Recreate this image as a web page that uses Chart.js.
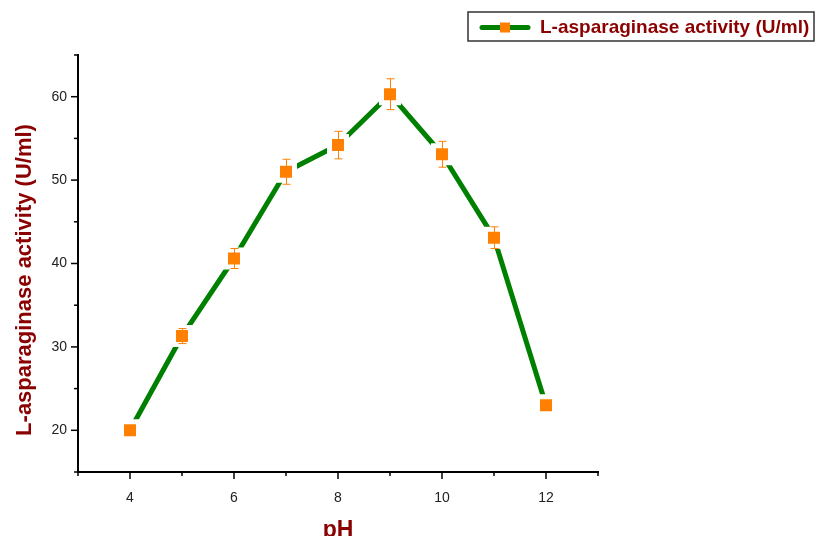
<!DOCTYPE html>
<html>
<head>
<meta charset="utf-8">
<title>L-asparaginase activity vs pH</title>
<script src="https://cdn.jsdelivr.net/npm/chart.js@4.4.1/dist/chart.umd.min.js"></script>
<style>
    html, body { margin: 0; padding: 0; background: #fff; }
    #wrap { width: 817px; height: 536px; }
</style>
</head>
<body>
<div id="wrap"><canvas id="ph-chart" width="817" height="536"></canvas></div>
<script>
// values
const phValues = [4, 5, 6, 7, 8, 9, 10, 11, 12];
const activity = [20.0, 31.3, 40.6, 51.0, 54.2, 60.3, 53.1, 43.1, 23.0];
const activityErr = [0.3, 0.9, 1.2, 1.5, 1.65, 1.85, 1.55, 1.3, 0.3];
const xTickLabels = ["4", "6", "8", "10", "12"];
const yTickLabels = ["20", "30", "40", "50", "60"];

const seriesName = "L-asparaginase activity (U/ml)";
const yTitle = "L-asparaginase activity (U/ml)";
const xTitle = "pH";

const GREEN = "#008000";
const ORANGE = "#ff8000";
const DARKRED = "#8b0000";

const points = phValues.map((p, i) => ({ x: p, y: activity[i] }));

// ticks, error bars, axis titles and the legend box
const extras = {
    id: "extras",
    afterDatasetsDraw(chart) {
        const ctx = chart.ctx;
        const xs = chart.scales.x;
        const ys = chart.scales.y;
        ctx.save();
        ctx.strokeStyle = ORANGE;
        ctx.lineWidth = 1;
        for (let i = 0; i < phValues.length; i++) {
            const x = Math.round(xs.getPixelForValue(phValues[i])) + 0.5;
            const top = ys.getPixelForValue(activity[i] + activityErr[i]);
            const bot = ys.getPixelForValue(activity[i] - activityErr[i]);
            ctx.beginPath();
            ctx.moveTo(x, top); ctx.lineTo(x, bot);
            ctx.moveTo(x - 4, top); ctx.lineTo(x + 4, top);
            ctx.moveTo(x - 4, bot); ctx.lineTo(x + 4, bot);
            ctx.stroke();
        }
        ctx.restore();
    },
    afterDraw(chart) {
        const ctx = chart.ctx;
        const xs = chart.scales.x;
        const ys = chart.scales.y;
        const area = chart.chartArea;
        ctx.save();
        ctx.strokeStyle = "#000";
        ctx.lineWidth = 1.5;
        // x ticks (major on labelled values)
        xs.ticks.forEach(t => {
            const x = xs.getPixelForValue(t.value);
            const len = xTickLabels.includes(String(t.value)) ? 7 : 4;
            ctx.beginPath();
            ctx.moveTo(x, area.bottom);
            ctx.lineTo(x, area.bottom + len);
            ctx.stroke();
        });
        ys.ticks.forEach(t => {
            const y = ys.getPixelForValue(t.value);
            const len = yTickLabels.includes(String(t.value)) ? 7 : 4;
            ctx.beginPath();
            ctx.moveTo(area.left, y);
            ctx.lineTo(area.left - len, y);
            ctx.stroke();
        });

        // axis titles
        ctx.fillStyle = DARKRED;
        ctx.font = "bold 23px 'Liberation Sans', Arial, sans-serif";
        ctx.textAlign = "center";
        ctx.textBaseline = "alphabetic";
        ctx.fillText(xTitle, (area.left + area.right) / 2, 537);

        ctx.save();
        ctx.translate(31, 280);
        ctx.rotate(-Math.PI / 2);
        ctx.font = "bold 22px 'Liberation Sans', Arial, sans-serif";
        ctx.fillText(yTitle, 0, 0);
        ctx.restore();

        // legend
        const lx = 468, ly = 12, lw = 346, lh = 29;
        ctx.strokeStyle = "#333";
        ctx.lineWidth = 1.5;
        ctx.strokeRect(lx, ly, lw, lh);
        const cy = ly + lh / 2 + 1;
        ctx.strokeStyle = GREEN;
        ctx.lineWidth = 5;
        ctx.lineCap = "round";
        ctx.beginPath();
        ctx.moveTo(482, cy); ctx.lineTo(528, cy);
        ctx.stroke();
        ctx.fillStyle = ORANGE;
        ctx.fillRect(500, cy - 5, 10, 10);
        ctx.fillStyle = DARKRED;
        ctx.font = "bold 19px 'Liberation Sans', Arial, sans-serif";
        ctx.textAlign = "left";
        ctx.textBaseline = "middle";
        ctx.fillText(seriesName, 540, cy);
        ctx.restore();
    }
};

const ctx = document.getElementById("ph-chart").getContext("2d");
new Chart(ctx, {
    type: "scatter",
    data: {
        datasets: [
            {
                label: seriesName,
                data: points,
                showLine: true,
                borderColor: GREEN,
                borderWidth: 5,
                borderCapStyle: "round",
                borderJoinStyle: "round",
                pointRadius: 0,
                order: 2
            },
            {
                label: seriesName + " points",
                data: points,
                showLine: false,
                pointStyle: "rect",
                pointRadius: 12,
                backgroundColor: ORANGE,
                borderColor: "#fff",
                borderWidth: 5,
                order: 1
            }
        ]
    },
    plugins: [extras],
    options: {
        responsive: false,
        animation: false,
        devicePixelRatio: 1,
        layout: { padding: { top: 55, left: 0, right: 219, bottom: 0 } },
        plugins: {
            legend: { display: false },
            tooltip: { enabled: false }
        },
        scales: {
            x: {
                type: "linear",
                min: 3,
                max: 13,
                afterFit: s => { s.height = 64; },
                ticks: {
                    stepSize: 1,
                    padding: 18,
                    color: "#222",
                    font: { family: "'Liberation Sans', Arial, sans-serif", size: 14 },
                    callback: v => xTickLabels.includes(String(v)) ? String(v) : ""
                },
                grid: { drawOnChartArea: false, drawTicks: false },
                border: { display: true, color: "#000", width: 2 }
            },
            y: {
                min: 15,
                max: 65,
                afterFit: s => { s.width = 78; },
                ticks: {
                    stepSize: 5,
                    padding: 11,
                    color: "#222",
                    font: { family: "'Liberation Sans', Arial, sans-serif", size: 14 },
                    callback: v => yTickLabels.includes(String(v)) ? String(v) : ""
                },
                grid: { drawOnChartArea: false, drawTicks: false },
                border: { display: true, color: "#000", width: 2 }
            }
        }
    }
});
</script>
</body>
</html>
